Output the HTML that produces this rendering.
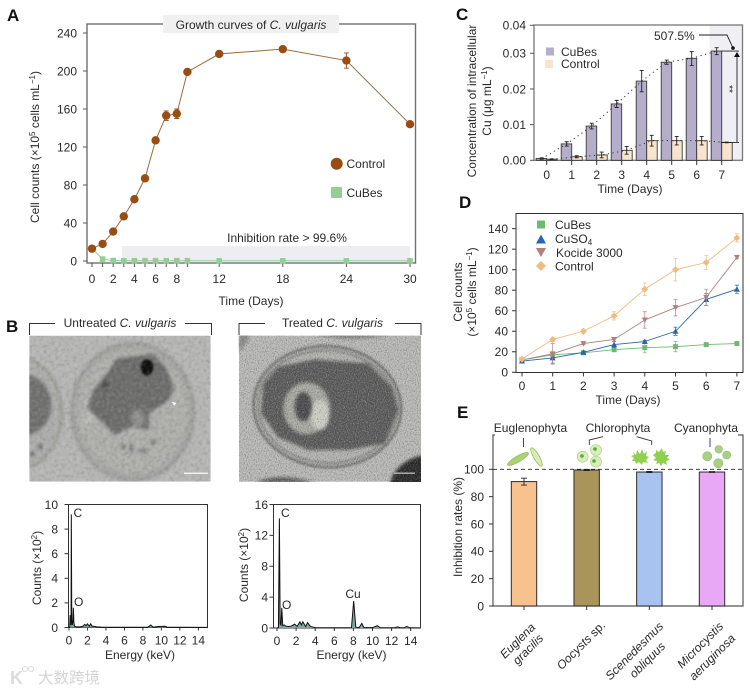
<!DOCTYPE html>
<html lang="en">
<head>
<meta charset="utf-8">
<title>C. vulgaris growth and inhibition figure</title>
<style>
html,body{margin:0;padding:0;background:#fff;width:750px;height:690px;overflow:hidden}
svg{display:block}
text{font-family:"Liberation Sans","Noto Sans CJK SC",sans-serif;font-size:12px;fill:#2a2a2a}
.letter{font-size:17px;font-weight:bold;fill:#111}
</style>
</head>
<body>
<svg id="fig" xmlns="http://www.w3.org/2000/svg" width="750" height="690" viewBox="0 0 750 690">
<defs>
<filter id="noise" x="0" y="0" width="100%" height="100%" color-interpolation-filters="sRGB"><feTurbulence type="fractalNoise" baseFrequency="0.3" numOctaves="2" seed="4"/><feColorMatrix type="matrix" values="1.2 1.2 0 0 -0.7 1.2 1.2 0 0 -0.7 1.2 1.2 0 0 -0.7 0 0 0 0 1"/></filter>
<filter id="noise-coarse" x="0" y="0" width="100%" height="100%" color-interpolation-filters="sRGB"><feTurbulence type="fractalNoise" baseFrequency="0.09" numOctaves="3" seed="9"/><feColorMatrix type="matrix" values="1 1 0 0 -0.5 1 1 0 0 -0.5 1 1 0 0 -0.5 0 0 0 0 1"/></filter>
<filter id="soft" x="-15%" y="-15%" width="130%" height="130%" color-interpolation-filters="sRGB"><feGaussianBlur stdDeviation="5"/></filter>
<filter id="softer" x="-15%" y="-15%" width="130%" height="130%" color-interpolation-filters="sRGB"><feGaussianBlur stdDeviation="3"/></filter>
<clipPath id="clip-left"><rect x="13" y="17" width="544" height="438"/></clipPath>
<clipPath id="clip-right"><rect x="12" y="17" width="546" height="438"/></clipPath>
</defs>
<rect width="750" height="690" fill="#fff"/>

<text class="letter" x="7" y="21">A</text>
<text class="letter" x="6" y="332">B</text>
<text class="letter" x="456" y="20">C</text>
<text class="letter" x="459" y="208">D</text>
<text class="letter" x="457" y="418">E</text>

<!-- Panel A static -->
<g>
<rect x="122" y="246" width="288" height="16" fill="#eeeef0"/>
<rect x="87" y="24" width="328.5" height="239" fill="none" stroke="#707070" stroke-width="1.4"/>
<rect x="163" y="15" width="176" height="18" fill="#f0f0f0"/>
<text x="251" y="29" text-anchor="middle">Growth curves of <tspan font-style="italic">C. vulgaris</tspan></text>
<text transform="translate(39,147) rotate(-90)" text-anchor="middle">Cell counts (×10<tspan font-size="8" dy="-4">5</tspan><tspan dy="4"> cells mL</tspan><tspan font-size="8" dy="-4">−1</tspan><tspan dy="4">)</tspan></text>
<text x="251" y="305" text-anchor="middle">Time (Days)</text>
<text x="287" y="242" text-anchor="middle">Inhibition rate &gt; 99.6%</text>
<circle cx="336.7" cy="163.7" r="6" fill="#994d12"/>
<text x="346.5" y="168">Control</text>
<rect x="331" y="187" width="11" height="11" fill="#93cf94"/>
<text x="346.5" y="197">CuBes</text>
</g>

<!-- Panel B static -->
<g>
<path d="M29.5 335V323.5H55M185 323.5H211.5V335" fill="none" stroke="#333" stroke-width="1"/>
<text x="120" y="327" text-anchor="middle">Untreated <tspan font-style="italic">C. vulgaris</tspan></text>
<path d="M239 335V323.5H265M395 323.5H421V335" fill="none" stroke="#333" stroke-width="1"/>
<text x="332.5" y="327" text-anchor="middle">Treated <tspan font-style="italic">C. vulgaris</tspan></text>

<g transform="translate(25,330) scale(0.3333)">
<g clip-path="url(#clip-left)">
<rect x="13" y="17" width="544" height="438" fill="#b5b5b3"/>
<g filter="url(#soft)">
<ellipse cx="-15" cy="250" rx="125" ry="165" fill="#acacaa" stroke="#98988f" stroke-width="8"/>
<ellipse cx="-5" cy="225" rx="84" ry="92" fill="#727270"/>
<ellipse cx="323" cy="245" rx="183" ry="205" fill="#a7a7a4" stroke="#969692" stroke-width="8"/>
<ellipse cx="323" cy="245" rx="165" ry="185" fill="#aeaeaa"/>
<path d="M275 85L385 72L425 115L447 175L430 212L372 250L372 300L320 290L270 315L235 280L188 235L205 180L250 125Z" fill="#6e6e6d"/>
<ellipse cx="338" cy="265" rx="20" ry="28" fill="#8e8e8a"/>
<ellipse cx="190" cy="265" rx="14" ry="20" fill="#b9b9b5"/>
<ellipse cx="355" cy="362" rx="14" ry="10" fill="#8b8b87"/>
<ellipse cx="320" cy="355" rx="6" ry="16" fill="#808080"/>
<ellipse cx="385" cy="337" rx="10" ry="8" fill="#7f7f7b"/>
<ellipse cx="295" cy="350" rx="8" ry="8" fill="#7c7c78"/>
<ellipse cx="45" cy="350" rx="9" ry="8" fill="#777"/>
<ellipse cx="22" cy="372" rx="7" ry="7" fill="#666"/>
<ellipse cx="240" cy="165" rx="10" ry="10" fill="#4a4a4a"/>
</g>
<ellipse cx="366" cy="112" rx="19" ry="24" fill="#111" filter="url(#softer)"/>
<rect x="13" y="17" width="544" height="438" filter="url(#noise-coarse)" opacity="0.1" style="mix-blend-mode:hard-light"/>
<rect x="477" y="428" width="72" height="3.5" fill="#fff"/>
<path d="M440 215l14 4-6 8z" fill="#fff"/>
</g>
</g>

<g transform="translate(235,330) scale(0.3333)">
<g clip-path="url(#clip-right)">
<rect x="12" y="17" width="546" height="438" fill="#b7b7b5"/>
<g filter="url(#softer)">
<ellipse cx="277" cy="230" rx="222" ry="182" fill="#a8a8a4" stroke="#707070" stroke-width="7" transform="rotate(4 277 230)"/>
<ellipse cx="277" cy="230" rx="208" ry="168" fill="#b2b2ae" stroke="#7a7a7a" stroke-width="4" transform="rotate(4 277 230)"/>
</g>
<g filter="url(#soft)">
<path d="M130 110L240 88L400 100L470 170L490 240L450 340L340 360L220 360L130 322L78 250L85 160Z" fill="#5d5d5d"/>
<ellipse cx="215" cy="235" rx="70" ry="78" fill="#a9a9a3"/>
<ellipse cx="255" cy="255" rx="28" ry="45" fill="#cdcdc6"/>
<ellipse cx="205" cy="230" rx="26" ry="44" fill="#4e4e4e"/>
<ellipse cx="545" cy="440" rx="85" ry="55" fill="#2c2c2c" transform="rotate(-30 545 440)"/>
<path d="M60 458Q130 425 240 458Z" fill="#5a5a5a"/>
<path d="M240 14Q350 36 470 14Z" fill="#777"/>
<path d="M12 65Q35 45 45 14L12 14Z" fill="#8a8a8a"/>
</g>
<rect x="12" y="17" width="546" height="438" filter="url(#noise)" opacity="0.3" style="mix-blend-mode:hard-light"/>
<rect x="478" y="428" width="62" height="3" fill="#e8e8e8"/>
</g>
</g>

<rect x="68.5" y="504.5" width="139" height="123" fill="none" stroke="#333" stroke-width="1"/>
<text transform="translate(41,568) rotate(-90)" text-anchor="middle">Counts (×10<tspan font-size="8" dy="-4">2</tspan><tspan dy="4">)</tspan></text>
<text x="140" y="659" text-anchor="middle">Energy (keV)</text>
<text x="73.5" y="517">C</text>
<text x="74" y="606">O</text>

<rect x="273.5" y="504.5" width="147" height="123.5" fill="none" stroke="#333" stroke-width="1"/>
<text transform="translate(248,565) rotate(-90)" text-anchor="middle">Counts (×10<tspan font-size="8" dy="-4">2</tspan><tspan dy="4">)</tspan></text>
<text x="351.5" y="659" text-anchor="middle">Energy (keV)</text>
<text x="281" y="517">C</text>
<text x="282" y="609">O</text>
<text x="353" y="598" text-anchor="middle">Cu</text>
</g>

<!-- Panel C static -->
<g>
<rect x="709.5" y="25" width="33" height="135" fill="#f0eff4"/>
<rect x="534" y="25" width="208.5" height="135.3" fill="none" stroke="#777" stroke-width="1.3"/>
<text transform="translate(476,101) rotate(-90)" text-anchor="middle">Concentration of intracellular</text>
<text transform="translate(491,101) rotate(-90)" text-anchor="middle">Cu  (μg mL<tspan font-size="8" dy="-4">−1</tspan><tspan dy="4">)</tspan></text>
<text x="630" y="193" text-anchor="middle">Time (Days)</text>
<rect x="546" y="47.5" width="8" height="8" fill="#b5aecb"/>
<text x="561" y="56">CuBes</text>
<rect x="545" y="60" width="8" height="8" fill="#f8e3cc"/>
<text x="561" y="68">Control</text>
<text x="654" y="40">507.5%</text>
</g>

<!-- Panel D static -->
<g>
<rect x="516" y="213.5" width="227" height="159" fill="none" stroke="#333" stroke-width="1"/>
<text transform="translate(462,292) rotate(-90)" text-anchor="middle">Cell counts</text>
<text transform="translate(476,292) rotate(-90)" text-anchor="middle">(×10<tspan font-size="8" dy="-4">5</tspan><tspan dy="4"> cells mL</tspan><tspan font-size="8" dy="-4">−1</tspan><tspan dy="4">)</tspan></text>
<text x="628" y="404" text-anchor="middle">Time (Days)</text>
<rect x="537" y="220.5" width="8" height="8" fill="#6dbb70"/>
<text x="555" y="229">CuBes</text>
<path d="M536 243.5h10l-5 -9z" fill="#2a66ad"/>
<text x="555" y="243">CuSO<tspan font-size="8" dy="2">4</tspan></text>
<path d="M536 248h10l-5 9z" fill="#b07f7f"/>
<text x="556" y="257">Kocide 3000</text>
<path d="M541 261l5 5 -5 5 -5 -5z" fill="#eebb80"/>
<text x="555" y="270.5">Control</text>
</g>

<!-- Panel E static -->
<g>
<path d="M495 435H493V606H743V435H738" fill="none" stroke="#555" stroke-width="1.2"/>
<text transform="translate(462,527) rotate(-90)" text-anchor="middle">Inhibition rates (%)</text>
<text x="530.5" y="432" text-anchor="middle">Euglenophyta</text>
<text x="618" y="432" text-anchor="middle">Chlorophyta</text>
<text x="706" y="432" text-anchor="middle">Cyanophyta</text>
<path d="M523.5 438V447M589.3 445V440L603 436.7M636.7 436.7L651.7 441V445M710 438V447" fill="none" stroke="#333" stroke-width="0.9"/>
<g>
<ellipse cx="518" cy="459" rx="12" ry="3" fill="#a9d36c" stroke="#8fae5a" stroke-width="0.6" transform="rotate(-30 518 459)"/>
<ellipse cx="536.5" cy="457" rx="10.5" ry="2.8" fill="#d8ecb8" stroke="#8fbc5a" stroke-width="0.8" transform="rotate(60 536.5 457)"/>
</g>
<g>
<circle cx="582.7" cy="456.7" r="5.5" fill="#d8edbb" stroke="#a8d080" stroke-width="0.6"/><circle cx="582" cy="456" r="1.8" fill="#5ba83a"/>
<circle cx="596" cy="450" r="5.5" fill="#d8edbb" stroke="#a8d080" stroke-width="0.6"/><circle cx="595" cy="449" r="1.8" fill="#5ba83a"/>
<circle cx="596" cy="461.7" r="5.5" fill="#d8edbb" stroke="#a8d080" stroke-width="0.6"/><circle cx="594" cy="461" r="1.8" fill="#5ba83a"/>
</g>
<g fill="#8fd14f">
<path d="M633 452l3 3 1-5 3 4 2-5 2 5 3-3-1 5 3 1-3 3 2 3-5-1-1 3-3-3-3 2-1-3-3 0 2-3-3-2 3-1z"/>
<path d="M653 455l3-2 0-3 3 2 3-4 1 4 3-1-1 4 4 0-2 3 3 2-4 1 1 4-4-2-2 3-2-3-3 1 1-3-4-1 3-2z"/>
</g>
<g fill="#a9cf85" stroke="#8fbd6c" stroke-width="0.6">
<circle cx="707.3" cy="456.3" r="4.6"/><circle cx="718.7" cy="449.3" r="3.8"/><circle cx="726.7" cy="455" r="4"/><circle cx="718.3" cy="463.3" r="4.6"/>
</g>
<g>
<text transform="translate(536,628) rotate(-45)" text-anchor="end" font-style="italic">Euglena</text>
<text transform="translate(544,639) rotate(-45)" text-anchor="end" font-style="italic">gracilis</text>
<text transform="translate(606,626) rotate(-45)" text-anchor="end"><tspan font-style="italic">Oocysts</tspan> sp.</text>
<text transform="translate(664,627) rotate(-45)" text-anchor="end" font-style="italic">Scenedesmus</text>
<text transform="translate(666,647) rotate(-45)" text-anchor="end" font-style="italic">obliquus</text>
<text transform="translate(724,627) rotate(-45)" text-anchor="end" font-style="italic">Microcystis</text>
<text transform="translate(736,639) rotate(-45)" text-anchor="end" font-style="italic">aeruginosa</text>
</g>
</g>

<!-- Watermark -->
<g>
<text x="10" y="684" style="font-size:18px;font-weight:bold;fill:#dcdcdc">K</text>
<circle cx="25" cy="669" r="2.5" fill="none" stroke="#dcdcdc"/>
<circle cx="31" cy="669" r="2.5" fill="none" stroke="#dcdcdc"/>
<text x="38" y="683" style="font-size:15.5px;fill:#d4d4d4;font-family:'Liberation Sans','Noto Sans CJK SC',sans-serif">大数跨境</text>
</g>

<g id="marks"></g>
</svg>

<script>
/* Panel A data */
const daysA = [0,1,2,3,4,5,6,7,8,9,12,18,24,30];
const controlA = [13,18,31,47,65,87,127,153,155,199,218,223,211,144];
const controlErrA = [1,1,1,1,1,2,2,5,5,2,2,2,8,2];
const cubesA = [13,2,0.5,0.3,0.3,0.3,0.3,0.3,0.3,0.3,0.2,0.2,0.2,0.2];
const yTicksA = [0,40,80,120,160,200,240];
const xLabelsA = [0,2,4,6,8,12,18,24,30];

/* Panel C data */
const daysC = [0,1,2,3,4,5,6,7];
const cubesC = [0.0005,0.0046,0.0096,0.0158,0.0222,0.0275,0.0286,0.0308];
const cubesErrC = [0.0002,0.0006,0.0008,0.001,0.003,0.0006,0.002,0.0012];
const controlC = [0.0003,0.001,0.0015,0.0028,0.0055,0.0055,0.0055,0.005];
const controlErrC = [0.0001,0.0003,0.0008,0.0011,0.0015,0.0012,0.0012,0.0001];
const yTicksC = [0,0.01,0.02,0.03,0.04];

/* Panel D data */
const daysD = [0,1,2,3,4,5,6,7];
const cubesD = [12,17,19,22,24,25,27,28];
const cubesErrD = [1,2,1,1,5,5,1,2];
const cuso4D = [11,14,19.5,27,30,40,71,81];
const cuso4ErrD = [1,5,1,3,1,4,6,4];
const kocideD = [12,18,28,32,51,63,73,112];
const kocideErrD = [1,10,1,2,8,8,8,1];
const controlD = [13,32,40,55,81,100,107,131];
const controlErrD = [1,2,2,4,6,11,7,4];
const yTicksD = [0,20,40,60,80,100,120,140];

/* Panel E data */
const speciesE = ['Euglena gracilis','Oocysts sp.','Scenedesmus obliquus','Microcystis aeruginosa'];
const ratesE = [91,99.5,98,98];
const ratesErrE = [2.5,0.4,0.4,0.3];
const yTicksE = [0,20,40,60,80,100];

/* Panel B spectra */
const energyLeft = [0,0.08,0.12,0.18,0.22,0.25,0.3,0.36,0.42,0.47,0.53,0.6,0.8,1.2,1.5,1.7,1.85,2.0,2.2,2.35,2.5,2.7,3.0,3.5,5,8.5,8.85,9.1,9.7,10.4,10.6,12,15];
const countsLeft = [0,0.05,1.0,0.3,0.2,9.2,0.6,0.2,0.5,1.6,0.4,0.1,0.05,0.05,0.1,0.25,0.15,0.3,0.1,0.3,0.1,0.1,0.05,0.03,0.02,0.02,0.2,0.03,0.08,0.1,0.03,0.02,0.01];
const energyRight = [0,0.15,0.25,0.33,0.42,0.5,0.6,0.75,0.9,1.2,1.5,1.85,2.1,2.4,2.55,2.7,3.0,3.2,3.5,4,6,7.8,8.03,8.25,8.6,8.88,9.1,10,10.5,10.8,12.3,12.6,12.9,13.3,13.6,13.9,15];
const countsRight = [0,0.05,14.2,0.5,0.4,2.6,0.3,0.4,0.25,0.2,0.25,0.5,0.2,0.8,0.4,0.8,0.2,0.7,0.2,0.05,0.03,0.05,3.5,0.1,0.05,0.6,0.05,0.05,0.3,0.05,0.03,0.15,0.03,0.03,0.2,0.03,0.02];
const xTicksEds = [0,2,4,6,8,10,12,14];
const yTicksEdsLeft = [0,2,4,6,8,10];
const yTicksEdsRight = [0,4,8,12,16];

const NS = 'http://www.w3.org/2000/svg';
const root = document.getElementById('marks');

function make(tag, parent, props) {
  const e = document.createElementNS(NS, tag);
  for (const k in props) e.setAttribute(k, props[k]);
  parent.appendChild(e);
  return e;
}
function group(parent, name) {
  const g = make('g', parent, {});
  
  
  return g;
}
function tickMark(parent, x1, y1, x2, y2, color, name) {
  const t = make('line', parent, {x1: x1, y1: y1, x2: x2, y2: y2, stroke: color, 'stroke-width': 1});
  
  
}
function label(parent, x, y, str, anchor, name) {
  const t = make('text', parent, {x: x, y: y, 'text-anchor': anchor});
  t.textContent = str;
  
  
}
function errorBar(parent, x, yLow, yHigh, cap, color, width, name) {
  const p = make('path', parent, {
    d: 'M' + (x - cap) + ' ' + yLow + 'H' + (x + cap) + 'M' + (x - cap) + ' ' + yHigh + 'H' + (x + cap) + 'M' + x + ' ' + yLow + 'V' + yHigh,
    fill: 'none', stroke: color, 'stroke-width': width
  });
  
  
}
function polyline(parent, xs, ys, color, width, dash, name) {
  const pts = xs.map((x, i) => x + ',' + ys[i]).join(' ');
  const p = make('polyline', parent, {points: pts, fill: 'none', stroke: color, 'stroke-width': width});
  if (dash) p.setAttribute('stroke-dasharray', dash);
  
  
}

/* ---- Panel A ---- */
const xA = d => 92 + d * 10.6;
const yA = v => 261 - v * 0.95;
const gA = group(root, 'chart-a-marks');
yTicksA.forEach(v => {
  tickMark(gA, 83, yA(v), 87, yA(v), '#555', 'y-tick');
  label(gA, 77, yA(v) + 4.3, String(v), 'end', 'y-tick-label');
});
daysA.forEach(d => tickMark(gA, xA(d), 263, xA(d), 267, '#555', 'x-tick'));
xLabelsA.forEach(d => label(gA, xA(d), 283, String(d), 'middle', 'x-tick-label'));
polyline(gA, daysA.map(xA), cubesA.map(yA), '#93cf94', 1, null, 'cubes-line');
polyline(gA, daysA.map(xA), controlA.map(yA), '#9a6a40', 1, null, 'control-line');
daysA.forEach((d, i) => {
  const s = make('rect', gA, {x: xA(d) - 2.8, y: yA(cubesA[i]) - 2.8, width: 5.6, height: 5.6, fill: '#93cf94'});
  
  
});
daysA.forEach((d, i) => {
  errorBar(gA, xA(d), yA(controlA[i] - controlErrA[i]), yA(controlA[i] + controlErrA[i]), 2.5, '#994d12', 0.9, 'control-error');
  const c = make('circle', gA, {cx: xA(d), cy: yA(controlA[i]), r: 4.2, fill: '#994d12'});
  
  
});

/* ---- Panel C ---- */
const xC = d => 546.7 + d * 25;
const yC = v => v <= 0.03 ? 160.3 - v * 3567 : 53.3 - (v - 0.03) * 2800;
const gC = group(root, 'chart-c-marks');
yTicksC.forEach(v => {
  tickMark(gC, 530, yC(v), 534, yC(v), '#555', 'y-tick');
  label(gC, 526, yC(v) + 4.3, v.toFixed(2), 'end', 'y-tick-label');
});
daysC.forEach(d => {
  tickMark(gC, xC(d), 160, xC(d), 165, '#333', 'x-tick');
  label(gC, xC(d), 179, String(d), 'middle', 'x-tick-label');
});
daysC.forEach((d, i) => {
  const a = make('rect', gC, {x: xC(d) - 10.5, y: yC(cubesC[i]), width: 10.5, height: 160.3 - yC(cubesC[i]), fill: '#b5aecb', stroke: '#3a3a3a', 'stroke-width': 0.9});
  
  
  const b = make('rect', gC, {x: xC(d), y: yC(controlC[i]), width: 10.5, height: 160.3 - yC(controlC[i]), fill: '#f8e3cc', stroke: '#3a3a3a', 'stroke-width': 0.9});
  
  
});
polyline(gC, daysC.map(d => xC(d) - 5), cubesC.map(yC), '#333', 1, '1.2 3.5', 'cubes-trend');
polyline(gC, daysC.map(d => xC(d) + 5), controlC.map(yC), '#333', 1, '1.2 3.5', 'control-trend');
daysC.forEach((d, i) => {
  errorBar(gC, xC(d) - 5, yC(cubesC[i] - cubesErrC[i]), yC(cubesC[i] + cubesErrC[i]), 2, '#222', 0.9, 'cubes-error');
  errorBar(gC, xC(d) + 5, yC(controlC[i] - controlErrC[i]), yC(controlC[i] + controlErrC[i]), 2, '#222', 0.9, 'control-error');
});
const topY = yC(cubesC[7]);
const lowY = yC(controlC[7]);
const ann = make('path', gC, {d: 'M699 35H727L733 ' + (topY - 3) + 'M' + xC(7) + ' ' + topY + 'H739M' + (xC(7) - 1) + ' ' + lowY + 'H739M737 ' + (topY + 3) + 'V' + lowY, fill: 'none', stroke: '#222', 'stroke-width': 0.9});


const dot = make('circle', gC, {cx: 733, cy: topY - 3, r: 1.8, fill: '#111'});


const arrow = make('path', gC, {d: 'M737 ' + (topY + 1) + 'l-3 5h6z', fill: '#111'});


const stars = make('text', gC, {transform: 'translate(726,89) rotate(90)', 'text-anchor': 'middle', style: 'font-size:10px'});
stars.textContent = '**';



/* ---- Panel D ---- */
const xD = d => 522 + d * 30.7;
const yD = v => 372.3 - v * 1.026;
const gD = group(root, 'chart-d-marks');
yTicksD.forEach(v => {
  tickMark(gD, 512, yD(v), 516, yD(v), '#333', 'y-tick');
  label(gD, 508, yD(v) + 4.3, String(v), 'end', 'y-tick-label');
});
daysD.forEach(d => {
  tickMark(gD, xD(d), 372.5, xD(d), 376.5, '#333', 'x-tick');
  label(gD, xD(d), 390, String(d), 'middle', 'x-tick-label');
});
function seriesD(vals, errs, color, shape, name) {
  const g = group(gD, name);
  polyline(g, daysD.map(xD), vals.map(yD), color, 0.9, null, 'series-line');
  daysD.forEach((d, i) => {
    const x = xD(d), y = yD(vals[i]);
    errorBar(g, x, yD(vals[i] - errs[i]), yD(vals[i] + errs[i]), 2, color, 0.7, 'series-error');
    const paths = {
      square: 'M' + (x - 2.5) + ' ' + (y - 2.5) + 'h5v5h-5z',
      up: 'M' + (x - 3) + ' ' + (y + 2.5) + 'h6l-3 -5.5z',
      down: 'M' + (x - 3) + ' ' + (y - 2.5) + 'h6l-3 5.5z',
      diamond: 'M' + x + ' ' + (y - 3.5) + 'l3.5 3.5 -3.5 3.5 -3.5 -3.5z'
    };
    const m = make('path', g, {d: paths[shape], fill: color});
    
    
  });
}
seriesD(cubesD, cubesErrD, '#6dbb70', 'square', 'series-cubes');
seriesD(cuso4D, cuso4ErrD, '#2a66ad', 'up', 'series-cuso4');
seriesD(kocideD, kocideErrD, '#b07f7f', 'down', 'series-kocide');
seriesD(controlD, controlErrD, '#eebb80', 'diamond', 'series-control');

/* ---- Panel E ---- */
const barColorsE = ['#f8c28f', '#a99559', '#a8c3ef', '#e8a8f5'];
const xE = i => 524 + i * 62.67;
const yE = v => 606 - v * 1.367;
const gE = group(root, 'chart-e-marks');
yTicksE.forEach(v => {
  tickMark(gE, 489, yE(v), 493, yE(v), '#333', 'y-tick');
  label(gE, 484, yE(v) + 4.3, String(v), 'end', 'y-tick-label');
});
speciesE.forEach((s, i) => {
  tickMark(gE, xE(i), 606, xE(i), 610, '#333', 'x-tick');
  const b = make('rect', gE, {x: xE(i) - 12.7, y: yE(ratesE[i]), width: 25.4, height: 606 - yE(ratesE[i]), fill: barColorsE[i], stroke: '#2c2c2c', 'stroke-width': 1});
  
  
  errorBar(gE, xE(i), yE(ratesE[i] - ratesErrE[i]), yE(ratesE[i] + ratesErrE[i]), 3, '#222', 0.9, 'rate-error');
});
const refLine = make('line', gE, {x1: 493, x2: 743, y1: yE(100), y2: yE(100), stroke: '#222', 'stroke-width': 0.9, 'stroke-dasharray': '4 3'});



/* ---- Panel B spectra ---- */
function spectrum(name, energies, counts, ticksY, maxY, x0, pxPerKev, y0, yTop, fLeft, labelRight, fillColor) {
  const g = group(root, name);
  const x = e => x0 + e * pxPerKev;
  const y = v => y0 - v / maxY * (y0 - yTop);
  ticksY.forEach(v => {
    tickMark(g, fLeft - 4, y(v), fLeft, y(v), '#333', 'y-tick');
    label(g, labelRight, y(v) + 4.3, String(v), 'end', 'y-tick-label');
  });
  xTicksEds.forEach(e => {
    tickMark(g, x(e), y0, x(e), y0 + 3, '#333', 'x-tick');
    label(g, x(e), y0 + 17, String(e), 'middle', 'x-tick-label');
  });
  const pts = energies.map((e, i) => x(e) + ',' + y(counts[i])).join(' ');
  const area = make('polygon', g, {points: x(energies[0]) + ',' + y0 + ' ' + pts + ' ' + x(energies[energies.length - 1]) + ',' + y0, fill: fillColor});
  
  
  polyline(g, energies.map(x), counts.map(y), '#111', 1, null, 'spectrum-line');
}
spectrum('eds-left-marks', energyLeft, countsLeft, yTicksEdsLeft, 10, 69, 9.24, 627.5, 504.5, 68.5, 58, '#7fa8a0');
spectrum('eds-right-marks', energyRight, countsRight, yTicksEdsRight, 16, 277, 9.55, 628, 504.5, 273.5, 268, '#7fa8a0');
</script>
</body>
</html>
